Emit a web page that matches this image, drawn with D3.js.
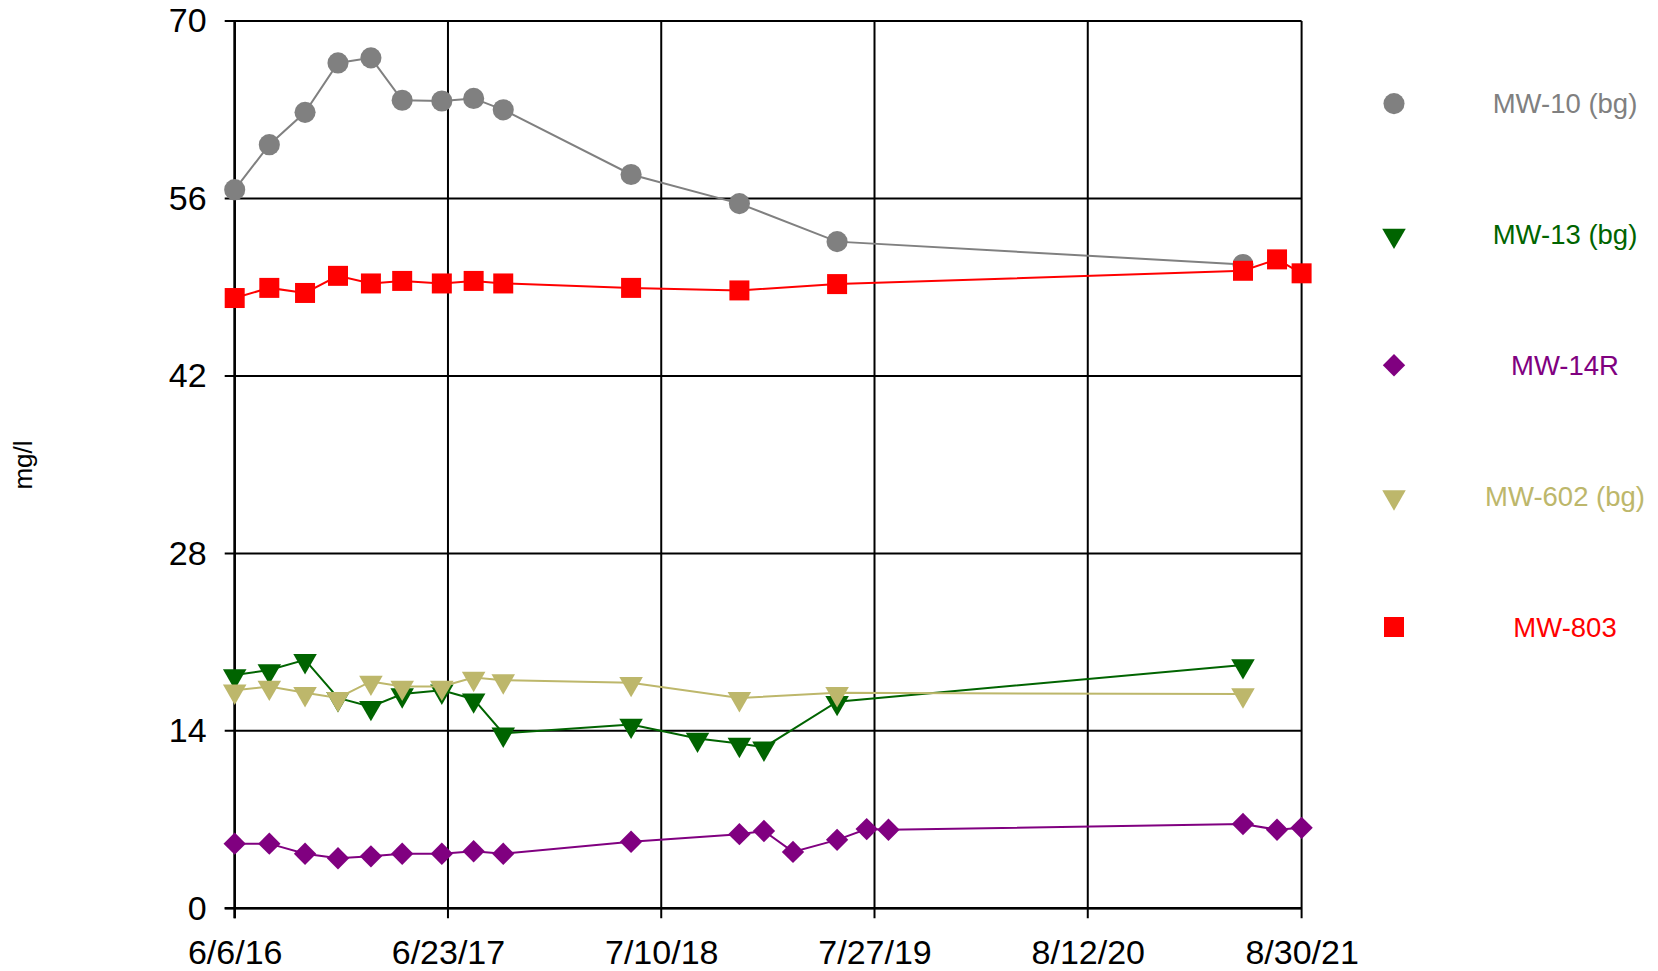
<!DOCTYPE html>
<html>
<head>
<meta charset="utf-8">
<script src="https://cdn.jsdelivr.net/npm/d3@7"></script>
<style>
  html, body { margin: 0; padding: 0; background: #fff; }
  svg { display: block; font-family: "Liberation Sans", Arial, sans-serif; }
</style>
</head>
<body>
<svg id="chart" width="1658" height="971"></svg>
<script>
// ---------- data ----------
const tickDates = ["2016-06-06", "2017-06-23", "2018-07-10", "2019-07-27", "2020-08-12", "2021-08-30"];
const tickLabels = ["6/6/16", "6/23/17", "7/10/18", "7/27/19", "8/12/20", "8/30/21"];
const yTicks = [0, 14, 28, 42, 56, 70];

const mw10Dates = ["2016-06-06","2016-08-07","2016-10-10","2016-12-08","2017-02-05","2017-04-02","2017-06-12","2017-08-08","2017-09-30","2018-05-17","2018-11-27","2019-05-21","2021-05-17"];
const mw10Values = [56.7, 60.25, 62.8, 66.7, 67.1, 63.75, 63.7, 63.9, 63.0, 57.9, 55.6, 52.6, 50.8];

const mw13Dates = ["2016-06-06","2016-08-07","2016-10-10","2016-12-08","2017-02-05","2017-04-02","2017-06-12","2017-08-08","2017-09-30","2018-05-17","2018-09-13","2018-11-27","2019-01-10","2019-05-21","2021-05-17"];
const mw13Values = [18.4, 18.8, 19.6, 16.6, 15.9, 16.9, 17.2, 16.5, 13.8, 14.5, 13.4, 13.0, 12.7, 16.3, 19.2];

const mw14rDates = ["2016-06-06","2016-08-07","2016-10-10","2016-12-08","2017-02-05","2017-04-02","2017-06-12","2017-08-08","2017-09-30","2018-05-17","2018-11-27","2019-01-10","2019-03-03","2019-05-21","2019-07-13","2019-08-21","2021-05-17","2021-07-17","2021-08-30"];
const mw14rValues = [5.1, 5.1, 4.3, 3.95, 4.1, 4.3, 4.3, 4.5, 4.3, 5.25, 5.85, 6.1, 4.45, 5.4, 6.25, 6.2, 6.65, 6.2, 6.35];

const mw602Dates = ["2016-06-06","2016-08-07","2016-10-10","2016-12-08","2017-02-05","2017-04-02","2017-06-12","2017-08-08","2017-09-30","2018-05-17","2018-11-27","2019-05-21","2021-05-17"];
const mw602Values = [17.2, 17.5, 17.0, 16.6, 17.9, 17.5, 17.5, 18.2, 18.0, 17.8, 16.6, 17.0, 16.9];

const mw803Dates = ["2016-06-06","2016-08-07","2016-10-10","2016-12-08","2017-02-05","2017-04-02","2017-06-12","2017-08-08","2017-09-30","2018-05-17","2018-11-27","2019-05-21","2021-05-17","2021-07-17","2021-08-30"];
const mw803Values = [48.15, 48.95, 48.55, 49.9, 49.3, 49.5, 49.3, 49.5, 49.3, 48.95, 48.75, 49.25, 50.3, 51.2, 50.1];

const seriesNames = ["MW-10 (bg)", "MW-13 (bg)", "MW-14R", "MW-602 (bg)", "MW-803"];
const seriesColors = ["#808080", "#006400", "#800080", "#BDB76B", "#FF0000"];
const seriesShapes = ["circle", "triDown", "diamond", "triDown", "square"];

// ---------- layout ----------
const parse = d3.timeParse("%Y-%m-%d");
const plotLeft = 234.7, plotRight = 1301.6, plotTop = 21.1, plotBottom = 908.3;

const x = d3.scaleTime()
  .domain([parse(tickDates[0]), parse(tickDates[tickDates.length - 1])])
  .range([plotLeft, plotRight]);
const y = d3.scaleLinear().domain([0, 70]).range([plotBottom, plotTop]);

const svg = d3.select("#chart");

// grid
const grid = svg.append("g");
grid.selectAll("line.h").data(yTicks).join("line")
  .attr("class", "h")
  .attr("x1", plotLeft - 10).attr("x2", plotRight)
  .attr("y1", d => y(d)).attr("y2", d => y(d))
  .attr("stroke", "#000").attr("stroke-width", 2);
grid.selectAll("line.v").data(tickDates).join("line")
  .attr("class", "v")
  .attr("x1", d => x(parse(d))).attr("x2", d => x(parse(d)))
  .attr("y1", plotTop).attr("y2", plotBottom + 10)
  .attr("stroke", "#000").attr("stroke-width", 2);

// axes labels using d3 axes (domain hidden)
const yAxis = d3.axisLeft(y).tickValues(yTicks).tickSize(0).tickPadding(28);
const gy = svg.append("g").attr("transform", `translate(${plotLeft},0)`).call(yAxis);
gy.select(".domain").remove();
gy.selectAll("text").attr("font-size", 34).attr("fill", "#000")
  .attr("font-family", "'Liberation Sans', Arial, sans-serif");

const xAxis = d3.axisBottom(x).tickValues(tickDates.map(parse))
  .tickFormat((d, i) => tickLabels[i]).tickSize(0).tickPadding(32);
const gx = svg.append("g").attr("transform", `translate(0,${plotBottom})`).call(xAxis);
gx.select(".domain").remove();
gx.selectAll("text").attr("font-size", 34).attr("fill", "#000")
  .attr("font-family", "'Liberation Sans', Arial, sans-serif");

// axis lines (thicker)
svg.append("line").attr("x1", plotLeft).attr("x2", plotLeft).attr("y1", plotTop).attr("y2", plotBottom + 10)
  .attr("stroke", "#000").attr("stroke-width", 2.5);
svg.append("line").attr("x1", plotLeft - 10).attr("x2", plotRight).attr("y1", plotBottom).attr("y2", plotBottom)
  .attr("stroke", "#000").attr("stroke-width", 2.5);

// y label
svg.append("text")
  .attr("transform", `translate(32,465) rotate(-90)`)
  .attr("text-anchor", "middle")
  .attr("font-size", 26)
  .attr("fill", "#000")
  .text("mg/l");

// ---------- markers ----------
function markerPath(shape) {
  switch (shape) {
    case "circle": return d3.symbol(d3.symbolCircle, 350)();
    case "square": return d3.symbol(d3.symbolSquare, 400)();
    case "diamond": return d3.symbol(d3.symbolSquare, 250)();
    case "triDown": return d3.symbol(d3.symbolTriangle, 240)();
  }
}
function markerTransform(shape, px, py) {
  if (shape === "diamond") return `translate(${px},${py}) rotate(45)`;
  if (shape === "triDown") return `translate(${px},${py + 1}) rotate(180)`;
  return `translate(${px},${py})`;
}

const allDates = [mw10Dates, mw13Dates, mw14rDates, mw602Dates, mw803Dates];
const allValues = [mw10Values, mw13Values, mw14rValues, mw602Values, mw803Values];

const lineGen = d3.line().x(d => x(d.date)).y(d => y(d.value));

allDates.forEach((dates, si) => {
  const data = dates.map((d, i) => ({ date: parse(d), value: allValues[si][i] }));
  const g = svg.append("g");
  g.append("path").datum(data)
    .attr("d", lineGen)
    .attr("fill", "none")
    .attr("stroke", seriesColors[si])
    .attr("stroke-width", 2);
  g.selectAll("path.m").data(data).join("path")
    .attr("class", "m")
    .attr("d", markerPath(seriesShapes[si]))
    .attr("transform", d => markerTransform(seriesShapes[si], x(d.date), y(d.value)))
    .attr("fill", seriesColors[si]);
});

// ---------- legend ----------
const legendY = d3.scalePoint().domain(seriesNames).range([103.6, 627]);
const lg = svg.append("g");
seriesNames.forEach((name, i) => {
  const ly = legendY(name);
  lg.append("path")
    .attr("d", markerPath(seriesShapes[i]))
    .attr("transform", markerTransform(seriesShapes[i], 1394, ly))
    .attr("fill", seriesColors[i]);
  lg.append("text")
    .attr("x", 1565).attr("y", ly)
    .attr("dy", "0.35em")
    .attr("text-anchor", "middle")
    .attr("font-size", 27.5)
    .attr("fill", seriesColors[i])
    .text(name);
});
</script>
</body>
</html>
